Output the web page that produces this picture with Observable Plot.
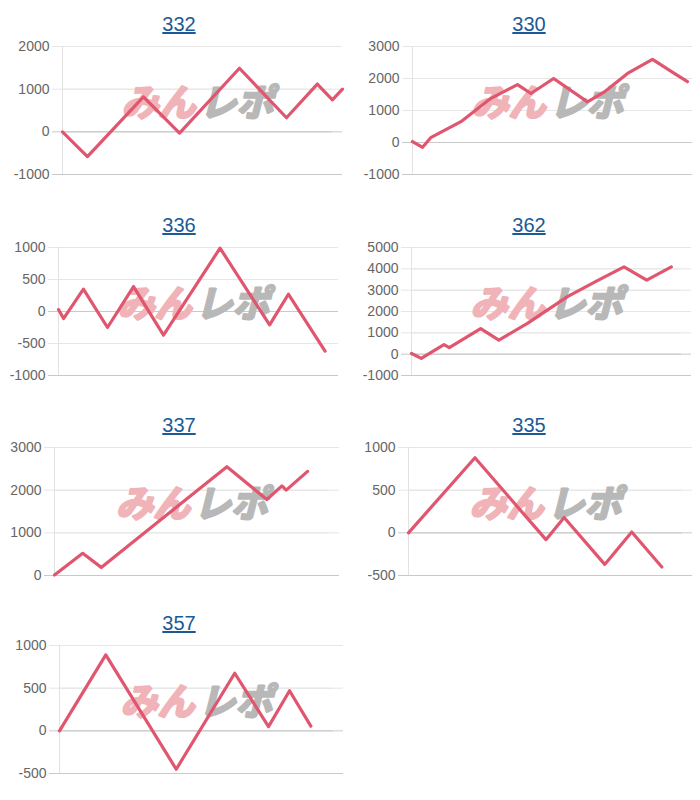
<!DOCTYPE html>
<html>
<head>
<meta charset="utf-8">
<script src="https://cdn.jsdelivr.net/npm/d3@7"></script>
<script src="https://cdn.jsdelivr.net/npm/@observablehq/plot@0.6"></script>
<style>
  html, body { margin: 0; padding: 0; background: #fff; }
  #root { position: relative; width: 700px; height: 800px; overflow: hidden; font-family: "Liberation Sans", Arial, sans-serif; }
  .panel { position: absolute; width: 350px; }
  .title { position: absolute; left: 0; width: 358px; text-align: center; font-size: 20px; line-height: 23px; }
  .title a { color: #1b5a95; text-decoration: underline; }
  .panel svg { position: absolute; left: 0; }
</style>
</head>
<body>
<div id="root"></div>
<script>
// ---- data ----
const titles = ["332", "330", "336", "362", "337", "335", "357"];
const yDomains = [[-1000, 2000], [-1000, 3000], [-1000, 1000], [-1000, 5000], [0, 3000], [-500, 1000], [-500, 1000]];
const yTicks = [
  [-1000, 0, 1000, 2000],
  [-1000, 0, 1000, 2000, 3000],
  [-1000, -500, 0, 500, 1000],
  [-1000, 0, 1000, 2000, 3000, 4000, 5000],
  [0, 1000, 2000, 3000],
  [-500, 0, 500, 1000],
  [-500, 0, 500, 1000]
];
// progress (0..100 of the x range) and balance values
const s332x = [0, 8.9, 28.9, 41.8, 63.2, 80, 91, 96.4, 100];
const s332y = [0, -580, 820, -30, 1490, 330, 1120, 750, 1000];
const s330x = [0, 3.6, 6.5, 17.3, 28, 37.5, 42.3, 50.4, 62.5, 68.5, 76.8, 85.7, 93.5, 98.2];
const s330y = [30, -150, 150, 650, 1380, 1810, 1530, 2000, 1270, 1580, 2160, 2600, 2160, 1900];
const s336x = [0, 1.8, 8.9, 17.5, 26.8, 37.5, 57.7, 75.4, 82.1, 95.2];
const s336y = [30, -110, 350, -250, 390, -370, 990, -210, 270, -620];
const s362x = [0, 3.5, 11.6, 13.5, 24.7, 31.2, 41.4, 55.7, 66.4, 75.9, 84, 92.8];
const s362y = [30, -200, 450, 310, 1200, 660, 1440, 2700, 3450, 4090, 3470, 4090];
const s337x = [0, 9.9, 16.4, 60.5, 74.5, 79.8, 81.3, 88.8];
const s337y = [10, 520, 190, 2550, 1780, 2100, 2000, 2440];
const s335x = [0, 23.4, 48.4, 54.8, 69.1, 78.6, 89.2];
const s335y = [0, 880, -80, 180, -370, 10, -400];
const s357x = [0, 16.3, 41.1, 61.7, 73.6, 81, 88.5];
const s357y = [0, 890, -450, 675, 50, 470, 55];
const seriesX = [s332x, s330x, s336x, s362x, s337x, s335x, s357x];
const seriesY = [s332y, s330y, s336y, s362y, s337y, s335y, s357y];
const watermark = ["みん", "レポ"];

// ---- layout (separate from data) ----
const plotTops = [46, 247, 447, 645];
const marginsLR = [[62, 8], [62, 8], [58, 12], [61, 9], [54, 11], [58, 8], [59, 7]];
const lineColor = "#e0566e";

const root = document.getElementById("root");
titles.forEach((t, i) => {
  const col = i % 2, row = Math.floor(i / 2);
  const plotTop = plotTops[row];
  const mt = 10, mb = 10, ph = 128;
  const panel = document.createElement("div");
  panel.className = "panel";
  panel.style.left = (col * 350) + "px";
  panel.style.top = "0px";
  const title = document.createElement("div");
  title.className = "title";
  title.style.top = (plotTop - 33.5) + "px";
  const a = document.createElement("a");
  a.href = "#";
  a.textContent = t;
  title.appendChild(a);
  panel.appendChild(title);

  const data = seriesX[i].map((x, k) => ({x, y: seriesY[i][k]}));
  const [dmin, dmax] = yDomains[i];
  const gridColor = v => (v === 0 || v === dmin) ? "#c9c9c9" : "#e6e6e6";
  const [ml, mr] = marginsLR[i];
  const wmStyle = {frameAnchor: "middle", text: d => d, dy: -6, fontSize: 37, fontWeight: "bold", fontStyle: "italic", strokeWidth: 2.5, strokeLinejoin: "round", fontFamily: "'Noto Sans CJK JP', sans-serif"};
  const chart = Plot.plot({
    width: 350,
    height: mt + ph + mb,
    marginTop: mt,
    marginBottom: mb,
    marginLeft: ml,
    marginRight: mr,
    style: {fontFamily: "'Liberation Sans', Arial, sans-serif", background: "transparent", overflow: "visible"},
    x: {domain: [0, 100], axis: null},
    y: {domain: yDomains[i], axis: null},
    marks: [
      Plot.ruleY(yTicks[i], {y: d => d, stroke: gridColor, strokeWidth: 1}),
      Plot.ruleY(yTicks[i], {y: d => d, stroke: gridColor, strokeWidth: 1, dx: -10}),
      Plot.ruleX([0], {x: d => d, y1: dmin, y2: dmax, stroke: "#e2e2e2"}),
      Plot.axisY({ticks: yTicks[i], tickSize: 0, tickPadding: 13, fontSize: 14, fill: "#666", label: null, tickFormat: d => String(d)}),
      Plot.text([watermark[0]], {...wmStyle, textAnchor: "end", dx: -7, fill: "#efb3b8", stroke: "#efb3b8"}),
      Plot.text([watermark[1]], {...wmStyle, textAnchor: "start", dx: -3, fill: "#b8b8b8", stroke: "#b8b8b8"}),
      Plot.line(data, {x: "x", y: "y", stroke: lineColor, strokeWidth: 3.2, strokeLinejoin: "round", strokeLinecap: "round"})
    ]
  });
  chart.style.top = (plotTop - mt) + "px";
  panel.appendChild(chart);
  root.appendChild(panel);
});
</script>
</body>
</html>
